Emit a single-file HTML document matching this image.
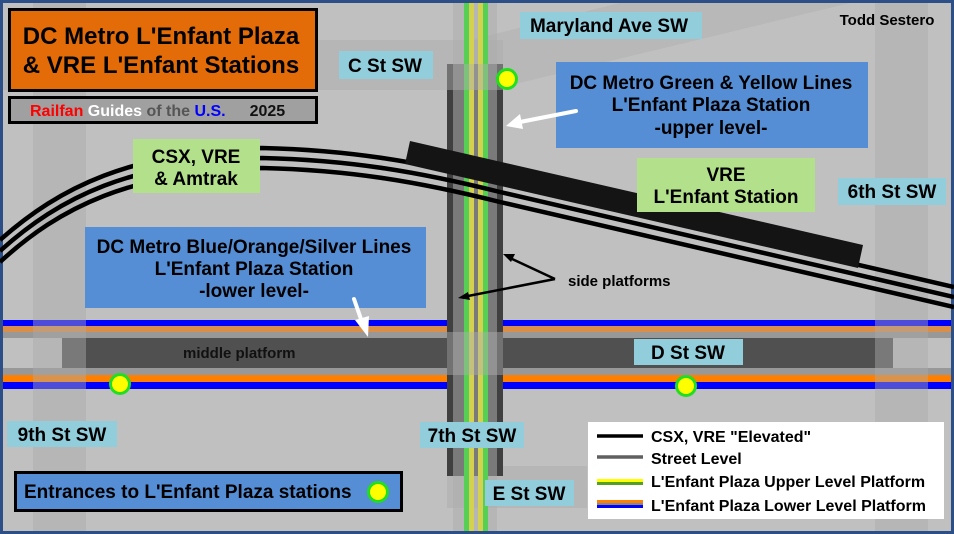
<!DOCTYPE html>
<html><head><meta charset="utf-8"><style>
html,body{margin:0;padding:0;background:#2b4f86;}
svg{display:block;}
text{font-family:"Liberation Sans",Arial,sans-serif;font-weight:bold;}
</style></head><body>
<svg width="954" height="534" viewBox="0 0 954 534" xmlns="http://www.w3.org/2000/svg">
<rect x="0" y="0" width="954" height="534" fill="#2b4f86"/>
<rect x="3" y="3" width="948" height="528" fill="#c0c0c0"/>
<polygon points="470,40 620,3 850,3 470,95" fill="#aaaaaa" opacity="0.35"/>
<rect x="3" y="40" width="500" height="50" fill="#aaaaaa" opacity="0.45"/>
<rect x="453" y="3" width="44" height="528" fill="#aaaaaa" opacity="0.45"/>
<rect x="447" y="466" width="140" height="42" fill="#aaaaaa" opacity="0.45"/>
<rect x="3" y="332" width="948" height="6" fill="#989898"/>
<rect x="3" y="368" width="948" height="7" fill="#989898"/>
<rect x="62" y="338" width="831" height="30" fill="#505050"/>
<rect x="3" y="320" width="948" height="6" fill="#0000ff"/>
<rect x="3" y="326" width="948" height="6" fill="#d98e4a"/>
<rect x="3" y="375" width="948" height="7" fill="#ff8000"/>
<rect x="3" y="382" width="948" height="7" fill="#0000ff"/>
<rect x="447" y="64" width="56" height="412" fill="#404040"/>
<rect x="453" y="64" width="44" height="412" fill="#7a7a7a"/>
<rect x="464" y="3" width="5" height="528" fill="#55d055"/>
<rect x="469" y="3" width="5" height="528" fill="#d4d050"/>
<rect x="478" y="3" width="5" height="528" fill="#d4d050"/>
<rect x="483" y="3" width="5" height="528" fill="#55d055"/>
<rect x="447" y="332" width="56" height="43" fill="#b0b0b0" opacity="0.45"/>
<rect x="447" y="64" width="56" height="26" fill="#b0b0b0" opacity="0.45"/>
<rect x="33" y="3" width="53" height="528" fill="#aaaaaa" opacity="0.45"/>
<rect x="875" y="3" width="53" height="528" fill="#aaaaaa" opacity="0.45"/>
<g fill="none" stroke="#000" stroke-width="4.5">
<path d="M0,240 C60,187 130,152 262,148 C350,150 420,162 500,182 L954,287"/>
<path d="M0,251 C60,197 130,162 262,158 C350,160 420,172 500,192 L954,297"/>
<path d="M0,262 C60,207 130,172 262,168 C350,170 420,182 500,202 L954,307"/>
</g>
<polygon points="410,141 863,245 858,268 405,164" fill="#141414"/>
<rect x="9.5" y="9.5" width="307" height="81" fill="#e36c09" stroke="#000" stroke-width="3"/>
<text x="161" y="44" font-size="24" text-anchor="middle">DC Metro L'Enfant Plaza</text>
<text x="161" y="73" font-size="24" text-anchor="middle">&amp; VRE L'Enfant Stations</text>
<rect x="9.5" y="97.5" width="307" height="25" fill="#a0a0a0" stroke="#000" stroke-width="3"/>
<text x="30" y="116" font-size="16"><tspan fill="#ff0000">Railfan</tspan><tspan fill="#ffffff"> Guides</tspan><tspan fill="#555555"> of the </tspan><tspan fill="#0000ff">U.S.</tspan><tspan fill="#111" dx="24">2025</tspan></text>
<rect x="339" y="51" width="94" height="28" fill="#92cddc"/>
<text x="385" y="72" font-size="19" text-anchor="middle">C St SW</text>
<rect x="520" y="12" width="182" height="27" fill="#92cddc"/>
<text x="609" y="32" font-size="19" text-anchor="middle">Maryland Ave SW</text>
<text x="887" y="25" font-size="15" text-anchor="middle">Todd Sestero</text>
<rect x="556" y="62" width="312" height="86" fill="#558ed5"/>
<text x="711" y="89" font-size="19" text-anchor="middle">DC Metro Green &amp; Yellow Lines</text>
<text x="711" y="111" font-size="19" text-anchor="middle">L'Enfant Plaza Station</text>
<text x="711" y="134" font-size="19" text-anchor="middle">-upper level-</text>
<rect x="133" y="139" width="127" height="54" fill="#b3e08a"/>
<text x="196" y="163" font-size="19" text-anchor="middle">CSX, VRE</text>
<text x="196" y="185" font-size="19" text-anchor="middle">&amp; Amtrak</text>
<rect x="637" y="158" width="178" height="54" fill="#b3e08a"/>
<text x="726" y="181" font-size="19" text-anchor="middle">VRE</text>
<text x="726" y="203" font-size="19" text-anchor="middle">L'Enfant Station</text>
<rect x="838" y="178" width="108" height="27" fill="#92cddc"/>
<text x="892" y="198" font-size="19" text-anchor="middle">6th St SW</text>
<rect x="85" y="227" width="341" height="81" fill="#558ed5"/>
<text x="254" y="253" font-size="19" text-anchor="middle">DC Metro Blue/Orange/Silver Lines</text>
<text x="254" y="275" font-size="19" text-anchor="middle">L'Enfant Plaza Station</text>
<text x="254" y="297" font-size="19" text-anchor="middle">-lower level-</text>
<text x="568" y="286" font-size="15">side platforms</text>
<text x="183" y="358" font-size="15" fill="#111">middle platform</text>
<rect x="634" y="339" width="109" height="26" fill="#92cddc"/>
<text x="688" y="359" font-size="19" text-anchor="middle">D St SW</text>
<rect x="7" y="421" width="110" height="26" fill="#92cddc"/>
<text x="62" y="441" font-size="19" text-anchor="middle">9th St SW</text>
<rect x="420" y="422" width="104" height="26" fill="#92cddc"/>
<text x="472" y="442" font-size="19" text-anchor="middle">7th St SW</text>
<rect x="485" y="480" width="89" height="26" fill="#92cddc"/>
<text x="529" y="500" font-size="19" text-anchor="middle">E St SW</text>
<g stroke="#fff" stroke-width="4" stroke-linecap="round">
<line x1="576" y1="111" x2="520" y2="122"/>
<line x1="354" y1="299" x2="362" y2="322"/>
</g>
<polygon points="506,126 520,114 523,129" fill="#fff"/>
<polygon points="368,337 355,320 369,316" fill="#fff"/>
<g stroke="#000" stroke-width="2.5">
<line x1="555" y1="279" x2="510" y2="258"/>
<line x1="555" y1="279" x2="468" y2="296"/>
</g>
<polygon points="503,254 515,254 511,262" fill="#000"/>
<polygon points="458,298 468,292 470,300" fill="#000"/>
<rect x="15.5" y="472.5" width="386" height="38" fill="#558ed5" stroke="#000" stroke-width="3"/>
<text x="24" y="498" font-size="19">Entrances to L'Enfant Plaza stations</text>
<g fill="#ffff00" stroke="#22dd22" stroke-width="3">
<circle cx="507" cy="79" r="9.5"/>
<circle cx="120" cy="384" r="9.5"/>
<circle cx="686" cy="386" r="9.5"/>
<circle cx="378" cy="492" r="9.5"/>
</g>
<rect x="588" y="422" width="356" height="97" fill="#fff"/>
<line x1="597" y1="436" x2="643" y2="436" stroke="#000" stroke-width="3.5"/>
<line x1="597" y1="457" x2="643" y2="457" stroke="#606060" stroke-width="3.5"/>
<rect x="597" y="479" width="46" height="3" fill="#ffff00"/><rect x="597" y="482" width="46" height="3" fill="#55a020"/>
<rect x="597" y="500" width="46" height="3" fill="#ff8000"/><rect x="597" y="503" width="46" height="2" fill="#888"/><rect x="597" y="505" width="46" height="3" fill="#0000ff"/>
<text x="651" y="442" font-size="16">CSX, VRE "Elevated"</text>
<text x="651" y="464" font-size="16">Street Level</text>
<text x="651" y="487" font-size="16">L'Enfant Plaza Upper Level Platform</text>
<text x="651" y="511" font-size="16">L'Enfant Plaza Lower Level Platform</text>
</svg>
</body></html>
